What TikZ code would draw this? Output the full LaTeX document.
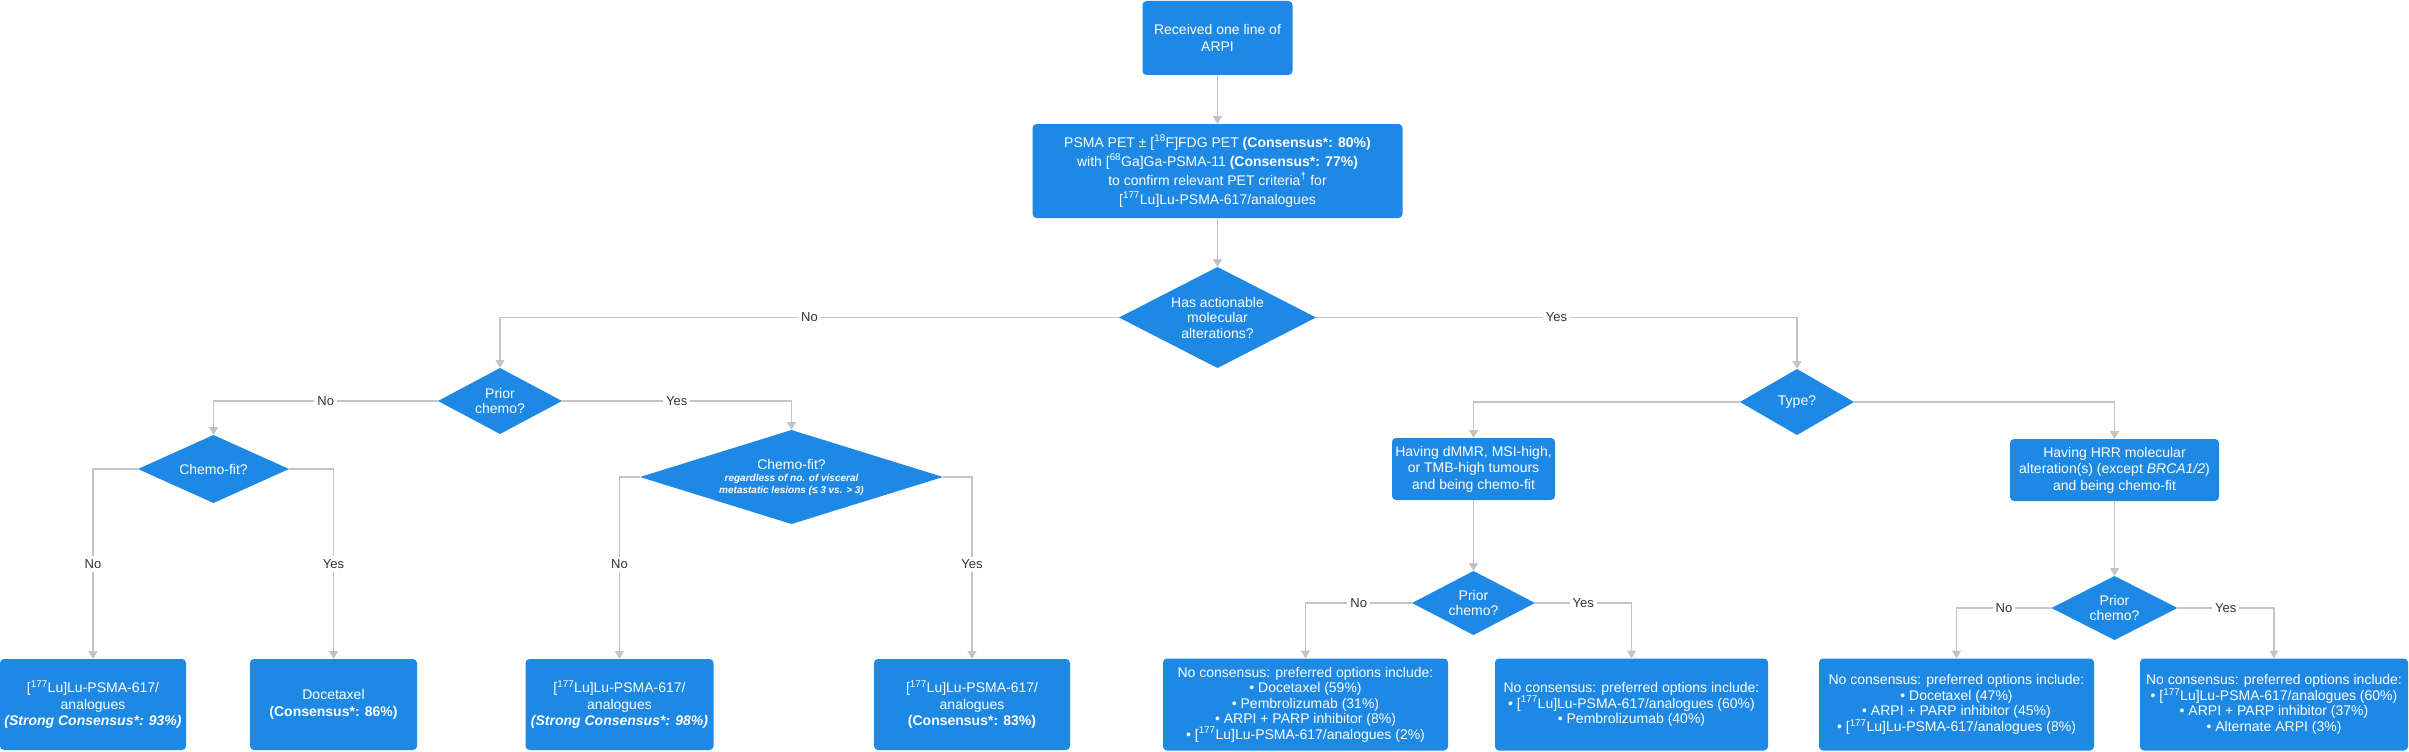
\documentclass[tikz,border=0pt]{standalone}
\usepackage{fontspec}
\setmainfont{Liberation Sans}
\usetikzlibrary{positioning,shapes.geometric,arrows.meta}
\definecolor{boxblue}{HTML}{1E88E5}
\definecolor{linegrey}{HTML}{C4C4C4}
\definecolor{lbltext}{HTML}{333333}
\newcommand{\lupsma}{[\textsuperscript{177}Lu]Lu-PSMA-617}
\newcommand{\smallit}[1]{{\fontsize{10}{12}\selectfont\itshape\bfseries #1}}

\begin{document}
\begin{tikzpicture}[x=1pt,y=-1pt,
  box/.style={rectangle,rounded corners=4pt,fill=boxblue,text=white,align=center,inner sep=0pt,outer sep=0pt,font=\fontsize{14}{16.5}\selectfont},
  dia/.style={diamond,fill=boxblue,text=white,align=center,inner sep=0pt,outer sep=0pt,font=\fontsize{14}{15.5}\selectfont},
  ncbox/.style={box,minimum height=92pt,font=\fontsize{14}{15.5}\selectfont},
  link/.style={draw=linegrey,line width=1.2pt,-{Triangle[width=9pt,length=8pt,fill=linegrey]}},
  lbl/.style={fill=white,text=lbltext,font=\fontsize{13}{15}\selectfont,inner sep=3pt}]
  \useasboundingbox (0,0) rectangle (2409,752);

  \node[box,minimum width=150pt,minimum height=74pt] (arpi) at (1217.5,38) {Received one line of\\ARPI};
  \node[box,minimum width=370pt,minimum height=94pt,font=\fontsize{14}{19}\selectfont] (pet) at (1217.5,171)
    {PSMA PET ± [\textsuperscript{18}F]FDG PET \textbf{(Consensus*: 80\%)}\\
     with [\textsuperscript{68}Ga]Ga-PSMA-11 \textbf{(Consensus*: 77\%)}\\
     to confirm relevant PET criteria\textsuperscript{†} for\\
     \lupsma/analogues};
  \node[dia,aspect=1.95,minimum width=197pt,minimum height=101pt] (actionable) at (1217.5,317.5) {Has actionable\\molecular\\alterations?};

  \node[dia,aspect=1.88,minimum width=124pt,minimum height=66pt] (prior1) at (500,401) {Prior\\chemo?};
  \node[dia,aspect=2.22,minimum width=151pt,minimum height=68pt] (chemofit1) at (213.5,469) {Chemo-fit?};
  \node[dia,aspect=3.22,minimum width=303pt,minimum height=94pt] (chemofit2) at (791.5,477)
    {Chemo-fit?\\[-3pt]\smallit{regardless of no. of visceral}\\[-4pt]\smallit{metastatic lesions (≤ 3 vs. > 3)}};
  \node[box,minimum width=186pt,minimum height=91pt] (lu93) at (93,704.5)
    {\lupsma/\\analogues\\\textbf{\textit{(Strong Consensus*: 93\%)}}};
  \node[box,minimum width=167pt,minimum height=91pt] (doc86) at (333.5,704.5)
    {Docetaxel\\\textbf{(Consensus*: 86\%)}};
  \node[box,minimum width=188pt,minimum height=91pt] (lu98) at (619.5,704.5)
    {\lupsma/\\analogues\\\textbf{\textit{(Strong Consensus*: 98\%)}}};
  \node[box,minimum width=196pt,minimum height=91pt] (lu83) at (972,704.5)
    {\lupsma/\\analogues\\\textbf{(Consensus*: 83\%)}};

  \node[dia,aspect=1.73,minimum width=114pt,minimum height=66pt] (type) at (1797,402) {Type?};
  \node[box,minimum width=163pt,minimum height=62pt] (dmmr) at (1473.5,469)
    {Having dMMR, MSI-high,\\or TMB-high tumours\\and being chemo-fit};
  \node[box,minimum width=209pt,minimum height=62pt] (hrr) at (2114.5,470)
    {Having HRR molecular\\alteration(s) (except \textit{BRCA1/2})\\and being chemo-fit};
  \node[dia,aspect=1.92,minimum width=123pt,minimum height=64pt] (prior2) at (1473.5,603) {Prior\\chemo?};
  \node[dia,aspect=1.97,minimum width=126pt,minimum height=64pt] (prior3) at (2114.5,608) {Prior\\chemo?};
  \node[ncbox,minimum width=285pt] (nc59) at (1305.5,704.5)
    {No consensus: preferred options include:\\• Docetaxel (59\%)\\• Pembrolizumab (31\%)\\• ARPI + PARP inhibitor (8\%)\\• \lupsma/analogues (2\%)};
  \node[ncbox,minimum width=273pt] (nc60) at (1631.5,704.5)
    {No consensus: preferred options include:\\• \lupsma/analogues (60\%)\\• Pembrolizumab (40\%)};
  \node[ncbox,minimum width=275pt] (nc47) at (1956.5,704.5)
    {No consensus: preferred options include:\\• Docetaxel (47\%)\\• ARPI + PARP inhibitor (45\%)\\• \lupsma/analogues (8\%)};
  \node[ncbox,minimum width=268pt] (nc37) at (2274,704.5)
    {No consensus: preferred options include:\\• \lupsma/analogues (60\%)\\• ARPI + PARP inhibitor (37\%)\\• Alternate ARPI (3\%)};

  \draw[link] (arpi) -- (pet);
  \draw[link] (pet) -- (actionable);
  \draw[link] (actionable.west) -| node[lbl,pos=.25]{No} (prior1.north);
  \draw[link] (actionable.east) -| node[lbl,pos=.25]{Yes} (type.north);
  \draw[link] (prior1.west) -| node[lbl,pos=.25]{No} (chemofit1.north);
  \draw[link] (prior1.east) -| node[lbl,pos=.25]{Yes} (chemofit2.north);
  \draw[link] (chemofit1.west) -| node[lbl,pos=.75]{No} (lu93.north);
  \draw[link] (chemofit1.east) -| node[lbl,pos=.75]{Yes} (doc86.north);
  \draw[link] (chemofit2.west) -| node[lbl,pos=.74]{No} (lu98.north);
  \draw[link] (chemofit2.east) -| node[lbl,pos=.74]{Yes} (lu83.north);
  \draw[link] (type.west) -| (dmmr.north);
  \draw[link] (type.east) -| (hrr.north);
  \draw[link] (dmmr) -- (prior2);
  \draw[link] (hrr) -- (prior3);
  \draw[link] (prior2.west) -| node[lbl,pos=.25]{No} (nc59.north);
  \draw[link] (prior2.east) -| node[lbl,pos=.25]{Yes} (nc60.north);
  \draw[link] (prior3.west) -| node[lbl,pos=.25]{No} (nc47.north);
  \draw[link] (prior3.east) -| node[lbl,pos=.25]{Yes} (nc37.north);
\end{tikzpicture}
\end{document}
